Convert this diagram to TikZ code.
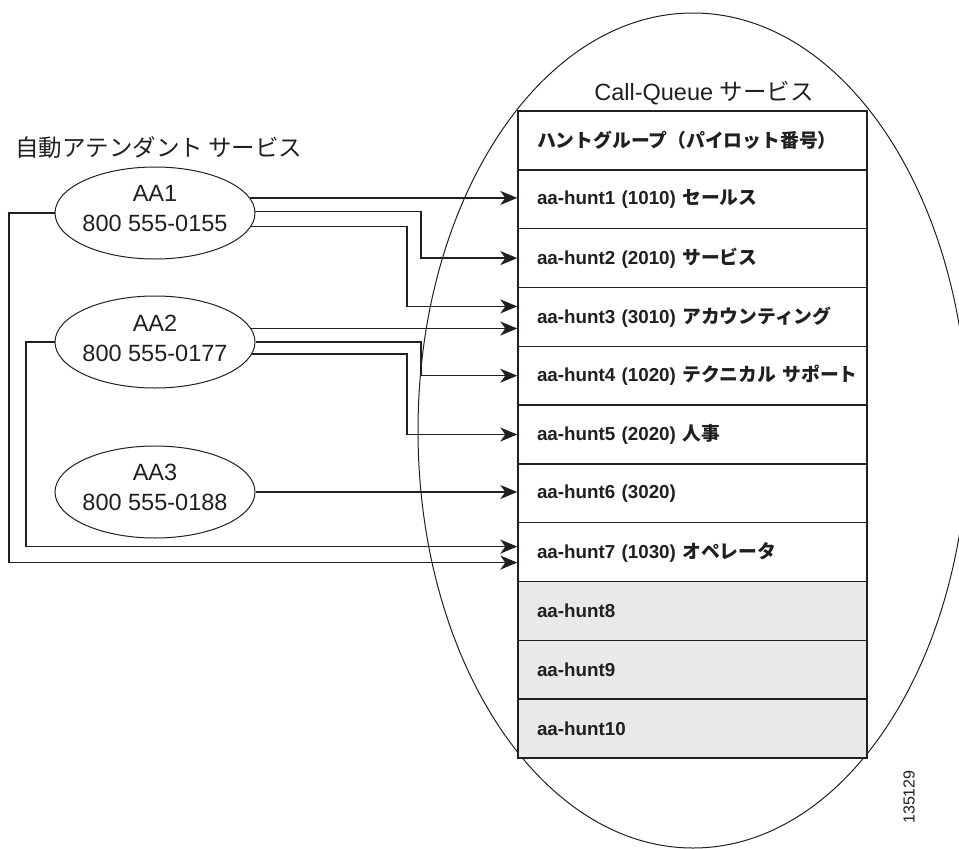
\documentclass[tikz,border=0pt]{standalone}
\usepackage{fontspec}
\setmainfont{Liberation Sans}
\newfontfamily\jp{Noto Sans CJK JP}
\usetikzlibrary{arrows.meta,shapes.geometric}
\definecolor{ink}{HTML}{231F20}
\definecolor{sparegrey}{HTML}{E8E9E9}

\begin{document}
\begin{tikzpicture}[x=1pt,y=-1pt,
  every node/.style={text=ink},
  aaell/.style={draw=ink, line width=1pt, ellipse, minimum width=200pt, minimum height=92pt, inner sep=0pt},
  aatext/.style={align=center, font=\fontsize{23.5}{30}\selectfont, inner sep=0pt},
  row/.style={draw=ink, line width=1.4pt, fill=white, text width=311pt, inner xsep=19pt, inner ysep=0pt,
    minimum height=58.8pt, align=left, font=\fontsize{18.8}{21}\selectfont\bfseries},
  sparerow/.style={row, fill=sparegrey},
  conn/.style={draw=ink, line width=1.4pt, -{Stealth[length=17pt,width=14pt,inset=5pt]}},
]
\useasboundingbox (0,0) rectangle (959,849);

% call-queue service area
\node[ellipse, draw=ink, line width=1pt, minimum width=550pt, minimum height=835pt, inner sep=0pt] (cqzone) at (693,430.5) {};
\node[font=\fontsize{23.5}{28}\selectfont, inner sep=0pt] (cqtitle) at (704,93) {Call-Queue {\jp サービス}};

% hunt group table
\node[row] (h0) at (692.5,140.5) {{\jp ハントグループ（パイロット番号）}};
\node[row] (h1) at (692.5,199.3) {aa-hunt1 (1010) {\jp セールス}};
\node[row] (h2) at (692.5,258.1) {aa-hunt2 (2010) {\jp サービス}};
\node[row] (h3) at (692.5,316.9) {aa-hunt3 (3010) {\jp アカウンティング}};
\node[row] (h4) at (692.5,375.7) {\mbox{aa-hunt4 (1020) {\jp テクニカル~サポート}}};
\node[row] (h5) at (692.5,434.5) {aa-hunt5 (2020) {\jp 人事}};
\node[row] (h6) at (692.5,493.3) {aa-hunt6 (3020)};
\node[row] (h7) at (692.5,552.1) {aa-hunt7 (1030) {\jp オペレータ}};
\node[sparerow] (h8) at (692.5,610.9) {aa-hunt8};
\node[sparerow] (h9) at (692.5,669.7) {aa-hunt9};
\node[sparerow] (h10) at (692.5,728.5) {aa-hunt10};

% auto attendant services
\node[anchor=west, inner sep=0pt, font=\fontsize{23.5}{28}\selectfont] (aatitle) at (15,148) {{\jp 自動アテンダント サービス}};
\node[aaell] (aa1) at (155,213) {};
\node[aaell] (aa2) at (155,342) {};
\node[aaell] (aa3) at (155,492) {};
\node[aatext] (aa1t) at (155,209) {AA1\\800 555-0155};
\node[aatext] (aa2t) at (155,338) {AA2\\800 555-0177};
\node[aatext] (aa3t) at (155,487) {AA3\\800 555-0188};

% routing columns and arrow targets
\coordinate (bendA) at (421,0);
\coordinate (bendB) at (407,0);
\coordinate (loopA) at (9,0);
\coordinate (loopB) at (26,0);
\coordinate (t3a) at ([yshift=10.5pt]h3.west);
\coordinate (t7a) at ([yshift=5.5pt]h7.west);
\coordinate (t7b) at ([yshift=-10.5pt]h7.west);

% AA1 routes
\draw[conn] (aa1.9) -- (aa1.9 -| h1.west);
\draw[conn] (aa1.1) -- (aa1.1 -| bendA) -- (bendA |- h2.west) -- (h2.west);
\draw[conn] (aa1.-8) -- (aa1.-8 -| bendB) -- (bendB |- t3a) -- (t3a);
\draw[conn] (aa1.west) -- (aa1.west -| loopA) -- (loopA |- t7b) -- (t7b);
% AA2 routes
\draw[conn] (aa2.8) -- (aa2.8 -| h3.west);
\draw[conn] (aa2.east) -- (aa2.east -| bendA) -- (bendA |- h4.west) -- (h4.west);
\draw[conn] (aa2.-7) -- (aa2.-7 -| bendB) -- (bendB |- h5.west) -- (h5.west);
\draw[conn] (aa2.west) -- (aa2.west -| loopB) -- (loopB |- t7a) -- (t7a);
% AA3 route
\draw[conn] (aa3.east) -- (aa3.east -| h6.west);

% figure number
\node[rotate=90, inner sep=0pt, font=\fontsize{16}{18}\selectfont] (fignum) at (909,797) {135129};
\end{tikzpicture}
\end{document}
